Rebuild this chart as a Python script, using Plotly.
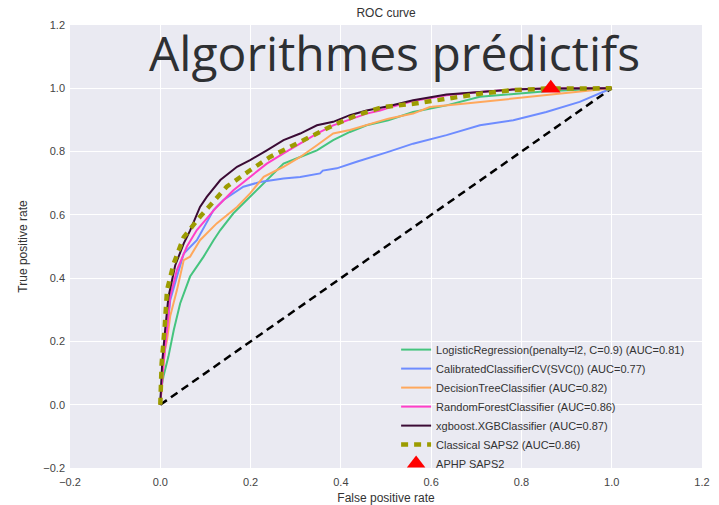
import plotly.graph_objects as go

# ---- data ----
lr_x = [0, 0.002, 0.007, 0.018, 0.03, 0.044, 0.066, 0.096, 0.118, 0.133, 0.162, 0.199, 0.236, 0.273, 0.31, 0.347, 0.383, 0.42, 0.457, 0.505, 0.56, 0.634, 0.708, 0.78, 0.855, 1.0]
lr_y = [0, 0.05, 0.09, 0.152, 0.237, 0.32, 0.405, 0.468, 0.52, 0.552, 0.605, 0.657, 0.71, 0.762, 0.783, 0.804, 0.836, 0.862, 0.883, 0.899, 0.925, 0.946, 0.973, 0.983, 0.991, 1.0]

svc_x = [0, 0.003, 0.007, 0.015, 0.022, 0.037, 0.052, 0.081, 0.118, 0.14, 0.184, 0.221, 0.273, 0.31, 0.354, 0.36, 0.391, 0.435, 0.479, 0.505, 0.56, 0.634, 0.708, 0.782, 0.855, 0.929, 1.0]
svc_y = [0, 0.08, 0.152, 0.237, 0.33, 0.405, 0.478, 0.52, 0.615, 0.647, 0.689, 0.704, 0.715, 0.72, 0.731, 0.74, 0.747, 0.768, 0.789, 0.799, 0.825, 0.852, 0.883, 0.899, 0.925, 0.957, 1.0]

dt_x = [0, 0.005, 0.01, 0.015, 0.022, 0.037, 0.052, 0.066, 0.088, 0.125, 0.17, 0.199, 0.229, 0.273, 0.31, 0.347, 0.383, 0.42, 0.457, 0.505, 0.56, 0.597, 0.671, 0.745, 0.819, 0.892, 0.966, 1.0]
dt_y = [0, 0.1, 0.17, 0.205, 0.28, 0.363, 0.457, 0.468, 0.52, 0.573, 0.625, 0.668, 0.72, 0.752, 0.783, 0.82, 0.857, 0.868, 0.883, 0.904, 0.92, 0.941, 0.951, 0.962, 0.973, 0.983, 0.994, 1.0]

rf_x = [0, 0.003, 0.007, 0.015, 0.022, 0.037, 0.059, 0.081, 0.103, 0.125, 0.162, 0.199, 0.236, 0.273, 0.31, 0.347, 0.383, 0.457, 0.487, 0.509, 0.56, 0.634, 0.708, 0.78, 0.855, 1.0]
rf_y = [0, 0.07, 0.13, 0.237, 0.342, 0.426, 0.5, 0.552, 0.59, 0.625, 0.678, 0.72, 0.762, 0.794, 0.825, 0.857, 0.883, 0.92, 0.93, 0.94, 0.96, 0.978, 0.988, 0.996, 0.999, 1.0]

xgb_x = [0, 0.002, 0.004, 0.011, 0.018, 0.033, 0.052, 0.066, 0.088, 0.103, 0.133, 0.17, 0.199, 0.236, 0.273, 0.31, 0.347, 0.383, 0.42, 0.457, 0.505, 0.56, 0.634, 0.708, 0.78, 0.855, 1.0]
xgb_y = [0, 0.07, 0.13, 0.24, 0.34, 0.44, 0.51, 0.55, 0.625, 0.657, 0.71, 0.752, 0.773, 0.804, 0.836, 0.857, 0.883, 0.894, 0.915, 0.93, 0.943, 0.962, 0.98, 0.988, 0.996, 0.999, 1.0]

saps_x = [0, 0.003, 0.01, 0.015, 0.03, 0.052, 0.088, 0.107, 0.147, 0.199, 0.243, 0.288, 0.347, 0.383, 0.435, 0.494, 0.56, 0.634, 0.708, 0.78, 0.855, 1.0]
saps_y = [0, 0.13, 0.25, 0.363, 0.447, 0.53, 0.594, 0.625, 0.689, 0.741, 0.783, 0.815, 0.857, 0.883, 0.915, 0.941, 0.951, 0.967, 0.983, 0.994, 0.999, 1.0]

aphp_x = [0.865]
aphp_y = [1.0]

chance_x = [0, 1]
chance_y = [0, 1]

names = [
    "LogisticRegression(penalty=l2, C=0.9) (AUC=0.81)",
    "CalibratedClassifierCV(SVC()) (AUC=0.77)",
    "DecisionTreeClassifier (AUC=0.82)",
    "RandomForestClassifier (AUC=0.86)",
    "xgboost.XGBClassifier (AUC=0.87)",
    "Classical SAPS2 (AUC=0.86)",
    "APHP SAPS2",
]

ticks = [-0.2, 0.0, 0.2, 0.4, 0.6, 0.8, 1.0, 1.2]

fig = go.Figure()

fig.add_trace(go.Scatter(x=chance_x, y=chance_y, mode="lines", showlegend=False,
                         line=dict(color="black", width=2.5, dash="8px,5px")))

series = [
    (lr_x, lr_y, "#45c47e", 2),
    (svc_x, svc_y, "#6e8cff", 2),
    (dt_x, dt_y, "#ffa85c", 2),
    (rf_x, rf_y, "#ff3ec8", 2),
    (xgb_x, xgb_y, "#3b0b35", 2),
]
for (xs, ys, c, w), n in zip(series, names[:5]):
    fig.add_trace(go.Scatter(x=xs, y=ys, mode="lines", name=n,
                             line=dict(color=c, width=w)))

fig.add_trace(go.Scatter(x=saps_x, y=saps_y, mode="lines", name=names[5],
                         line=dict(color="#9c9c00", width=4.5, dash="7px,6px")))

fig.add_trace(go.Scatter(x=aphp_x, y=aphp_y, mode="markers", name=names[6],
                         marker=dict(symbol="triangle-up", color="#ff0000", size=17,
                                     line=dict(width=0))))

axis_common = dict(range=[-0.2, 1.2], tickvals=ticks, tickformat=".1f", automargin=False,
                   showgrid=True, gridcolor="white", gridwidth=1, zeroline=False,
                   showline=False, ticks="", tickfont=dict(family="Liberation Sans, Arial", size=11, color="#444"),
                   title_font=dict(family="Liberation Sans, Arial", size=12, color="#333"))

fig.update_layout(
    width=719, height=505,
    margin=dict(l=70, r=17, t=25, b=37),
    paper_bgcolor="white", plot_bgcolor="#eaeaf2",
    title=dict(text="ROC curve", x=0.537, xanchor="center", y=0.975, yanchor="middle",
               font=dict(family="Liberation Sans, Arial", size=12, color="#333")),
    xaxis=dict(axis_common, ticklabelstandoff=6, title=dict(text="False positive rate", standoff=8)),
    yaxis=dict(axis_common, ticklabelstandoff=4, title=dict(text="True positive rate", standoff=13)),
    legend=dict(x=0.516, y=0.30, xanchor="left", yanchor="top", bgcolor="rgba(0,0,0,0)",
                font=dict(family="Liberation Sans, Arial", size=11, color="#333"),
                itemwidth=30),
    annotations=[dict(text="Algorithmes prédictifs", xref="paper", yref="paper",
                      x=0.513, y=0.939, xanchor="center", yanchor="middle", showarrow=False,
                      font=dict(family="Open Sans", size=48, color="#2e3033"))],
)

fig.write_html("out.html", config={"displayModeBar": False},
               post_script="document.body.style.margin='0';")
